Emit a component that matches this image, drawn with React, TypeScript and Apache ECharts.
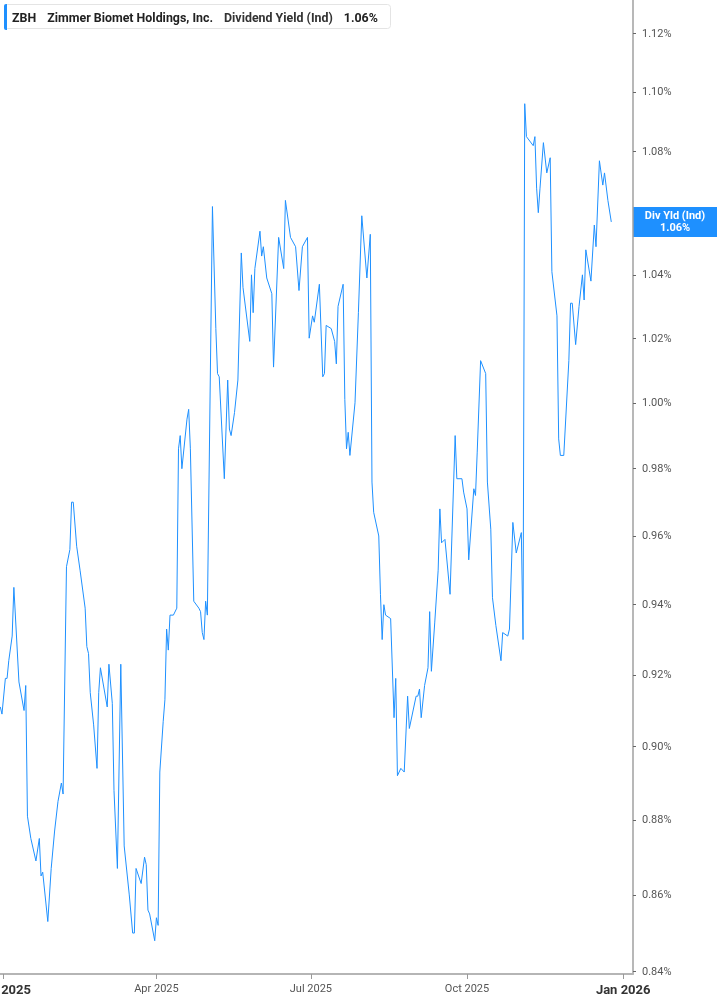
import React, { useEffect, useRef } from 'react';
import * as echarts from 'echarts';

// ZBH indicated dividend yield (%)
const q1Dates = [
  '2024-12-30', '2024-12-31', '2025-01-02', '2025-01-03', '2025-01-04', '2025-01-06', '2025-01-07', '2025-01-10', '2025-01-13', '2025-01-14',
  '2025-01-15', '2025-01-17', '2025-01-20', '2025-01-22', '2025-01-23', '2025-01-24', '2025-01-27', '2025-01-29', '2025-01-31', '2025-02-02',
  '2025-02-04', '2025-02-05', '2025-02-07', '2025-02-09', '2025-02-10', '2025-02-11', '2025-02-13', '2025-02-15', '2025-02-18', '2025-02-19',
  '2025-02-20', '2025-02-21', '2025-02-23', '2025-02-25', '2025-02-26', '2025-02-27', '2025-03-03', '2025-03-04', '2025-03-06', '2025-03-07',
  '2025-03-09', '2025-03-11', '2025-03-13', '2025-03-16', '2025-03-18', '2025-03-19', '2025-03-20', '2025-03-23', '2025-03-25', '2025-03-26',
  '2025-03-27', '2025-03-28', '2025-03-31', '2025-04-01', '2025-04-02',
];
const q1Yield = [
  0.911, 0.909, 0.919, 0.919, 0.924, 0.931, 0.945, 0.918, 0.910, 0.917,
  0.881, 0.875, 0.869, 0.875, 0.865, 0.866, 0.853, 0.867, 0.877, 0.885,
  0.890, 0.887, 0.951, 0.956, 0.970, 0.970, 0.957, 0.950, 0.939, 0.928,
  0.926, 0.915, 0.906, 0.894, 0.915, 0.922, 0.911, 0.923, 0.912, 0.888,
  0.867, 0.923, 0.873, 0.860, 0.850, 0.850, 0.867, 0.863, 0.870, 0.868,
  0.856, 0.855, 0.848, 0.854, 0.852,
];

const q2Dates = [
  '2025-04-03', '2025-04-05', '2025-04-06', '2025-04-07', '2025-04-08', '2025-04-09', '2025-04-11', '2025-04-13', '2025-04-14', '2025-04-15',
  '2025-04-16', '2025-04-19', '2025-04-20', '2025-04-21', '2025-04-23', '2025-04-26', '2025-04-27', '2025-04-28', '2025-04-29', '2025-04-30',
  '2025-05-01', '2025-05-04', '2025-05-06', '2025-05-07', '2025-05-08', '2025-05-11', '2025-05-13', '2025-05-14', '2025-05-15', '2025-05-17',
  '2025-05-19', '2025-05-21', '2025-05-22', '2025-05-26', '2025-05-27', '2025-05-28', '2025-05-29', '2025-06-01', '2025-06-02', '2025-06-03',
  '2025-06-05', '2025-06-08', '2025-06-09', '2025-06-12', '2025-06-15', '2025-06-16', '2025-06-19', '2025-06-22', '2025-06-24', '2025-06-26',
  '2025-06-29', '2025-06-30', '2025-07-02', '2025-07-03',
];
const q2Yield = [
  0.893, 0.907, 0.913, 0.933, 0.927, 0.937, 0.937, 0.939, 0.986, 0.990,
  0.980, 0.995, 0.998, 0.986, 0.941, 0.939, 0.938, 0.932, 0.930, 0.941,
  0.937, 1.062, 1.023, 1.009, 1.008, 0.977, 1.007, 0.992, 0.990, 0.997,
  1.007, 1.047, 1.036, 1.019, 1.040, 1.028, 1.042, 1.054, 1.046, 1.049,
  1.039, 1.034, 1.011, 1.052, 1.042, 1.064, 1.052, 1.049, 1.035, 1.049,
  1.052, 1.020, 1.027, 1.025,
];

const q3Dates = [
  '2025-07-06', '2025-07-08', '2025-07-09', '2025-07-10', '2025-07-13', '2025-07-15', '2025-07-16', '2025-07-17', '2025-07-20', '2025-07-21',
  '2025-07-22', '2025-07-23', '2025-07-24', '2025-07-27', '2025-07-29', '2025-07-31', '2025-08-03', '2025-08-05', '2025-08-06', '2025-08-07',
  '2025-08-10', '2025-08-11', '2025-08-12', '2025-08-13', '2025-08-14', '2025-08-17', '2025-08-19', '2025-08-20', '2025-08-21', '2025-08-23',
  '2025-08-25', '2025-08-27', '2025-08-28', '2025-09-01', '2025-09-02', '2025-09-03', '2025-09-04', '2025-09-06', '2025-09-08', '2025-09-09',
  '2025-09-10', '2025-09-12', '2025-09-14', '2025-09-15', '2025-09-16', '2025-09-18', '2025-09-21', '2025-09-24', '2025-09-25', '2025-09-28',
  '2025-09-29',
];
const q3Yield = [
  1.037, 1.008, 1.009, 1.024, 1.023, 1.019, 1.012, 1.030, 1.037, 1.001,
  0.986, 0.991, 0.984, 1.000, 1.028, 1.059, 1.039, 1.053, 0.976, 0.967,
  0.960, 0.943, 0.930, 0.940, 0.937, 0.936, 0.908, 0.919, 0.892, 0.894,
  0.893, 0.914, 0.905, 0.914, 0.914, 0.916, 0.908, 0.917, 0.922, 0.938,
  0.921, 0.935, 0.950, 0.968, 0.958, 0.959, 0.943, 0.990, 0.977, 0.977,
  0.973,
];

const q4Dates = [
  '2025-10-01', '2025-10-02', '2025-10-05', '2025-10-06', '2025-10-07', '2025-10-09', '2025-10-12', '2025-10-13', '2025-10-15', '2025-10-16',
  '2025-10-18', '2025-10-21', '2025-10-22', '2025-10-25', '2025-10-26', '2025-10-28', '2025-10-30', '2025-11-02', '2025-11-03', '2025-11-04',
  '2025-11-05', '2025-11-09', '2025-11-10', '2025-11-11', '2025-11-12', '2025-11-13', '2025-11-15', '2025-11-17', '2025-11-19', '2025-11-20',
  '2025-11-23', '2025-11-24', '2025-11-25', '2025-11-27', '2025-11-30', '2025-12-01', '2025-12-02', '2025-12-04', '2025-12-06', '2025-12-08',
  '2025-12-09', '2025-12-10', '2025-12-13', '2025-12-15', '2025-12-16', '2025-12-18', '2025-12-20', '2025-12-21', '2025-12-23', '2025-12-25',
];
const q4Yield = [
  0.968, 0.953, 0.974, 0.972, 0.985, 1.013, 1.009, 0.976, 0.962, 0.942,
  0.934, 0.924, 0.932, 0.931, 0.933, 0.964, 0.955, 0.961, 0.930, 1.096,
  1.085, 1.082, 1.085, 1.068, 1.060, 1.068, 1.083, 1.073, 1.078, 1.041,
  1.027, 0.989, 0.984, 0.984, 1.013, 1.031, 1.031, 1.018, 1.030, 1.040,
  1.032, 1.048, 1.038, 1.056, 1.049, 1.077, 1.069, 1.073, 1.064, 1.057,
];

// axis (log-scaled percent axis on the right); the 1.06% tick sits under the end tag
const yTickValues = [0.84, 0.86, 0.88, 0.9, 0.92, 0.94, 0.96, 0.98, 1.0, 1.02, 1.04, 1.08, 1.1, 1.12];
const yRange = [0.8394, 1.1314];
const xTickDates = ['2025-01-01', '2025-04-01', '2025-07-01', '2025-10-01', '2026-01-01'];
const months = ['Jan', 'Feb', 'Mar', 'Apr', 'May', 'Jun', 'Jul', 'Aug', 'Sep', 'Oct', 'Nov', 'Dec'];

const ticker = 'ZBH';
const company = 'Zimmer Biomet Holdings, Inc.';
const metric = 'Dividend Yield (Ind)';
const shortMetric = 'Div Yld (Ind)';

const BLUE = '#1e90ff';
const FONT = 'Roboto, sans-serif';

const toTime = (s: string) => {
  const [y, m, d] = s.split('-').map(Number);
  return new Date(y, m - 1, d).getTime();
};

const App: React.FC = () => {
  const chartRef = useRef<HTMLDivElement>(null);

  useEffect(() => {
    if (!chartRef.current) return;
    const chart = echarts.init(chartRef.current, null, { renderer: 'svg' });

    const dates = [...q1Dates, ...q2Dates, ...q3Dates, ...q4Dates];
    const values = [...q1Yield, ...q2Yield, ...q3Yield, ...q4Yield];
    const seriesData = dates.map((d, i) => [toTime(d), Math.log(values[i])]);
    const last = values[values.length - 1];
    const lastText = last.toFixed(2) + '%';
    const xMin = new Date(2024, 11, 29, 20).getTime();
    const xMax = new Date(2026, 0, 6, 19).getTime();
    const xTicks = xTickDates.map(toTime);
    const yTicks = yTickValues.map((v) => Math.log(v));

    chart.setOption({
      animation: false,
      textStyle: { fontFamily: FONT },
      title: {
        left: 4,
        top: 4,
        padding: [7, 13, 6, 8],
        backgroundColor: '#fff',
        borderColor: '#e4e4e4',
        borderWidth: 1,
        borderRadius: 3,
        text: `{t|${ticker}}{t|${company}}{n|${metric}}{v|${lastText}}`,
        textStyle: {
          fontSize: 12.4,
          rich: {
            t: { fontFamily: FONT, fontSize: 12.4, fontWeight: 'bold', color: '#222', padding: [0, 11, 0, 0] },
            n: { fontFamily: FONT, fontSize: 12.4, color: '#333', padding: [0, 11, 0, 0] },
            v: { fontFamily: FONT, fontSize: 12.4, fontWeight: 'bold', color: '#222' },
          },
        },
      },
      grid: { left: 0, right: 84, top: 0, bottom: 31, containLabel: false, outerBoundsMode: 'none' },
      xAxis: {
        type: 'value',
        min: xMin,
        max: xMax,
        splitLine: { show: false },
        axisLine: { show: true, onZero: false, lineStyle: { color: '#b5b5b5', width: 2 } },
        axisTick: { show: true, customValues: xTicks, length: 5, lineStyle: { color: '#999', width: 1 } },
        axisLabel: {
          customValues: xTicks,
          margin: 9,
          fontSize: 11,
          color: '#555',
          fontFamily: FONT,
          formatter: (value: number) => {
            const dt = new Date(value);
            const m = dt.getMonth();
            const label = `${months[m]} ${dt.getFullYear()}`;
            return m === 0 ? `{b|${label}}` : label;
          },
          rich: {
            b: { fontFamily: FONT, fontSize: 13, fontWeight: 'bold', color: '#333' },
          },
        },
      },
      yAxis: {
        type: 'value',
        position: 'right',
        min: Math.log(yRange[0]),
        max: Math.log(yRange[1]),
        splitLine: { show: false },
        axisLine: { show: true, onZero: false, lineStyle: { color: '#a0a0a0', width: 1.5 } },
        axisTick: { show: true, customValues: yTicks, length: 3, lineStyle: { color: '#666' } },
        axisLabel: {
          customValues: yTicks,
          margin: 9,
          fontSize: 11,
          color: '#555',
          fontFamily: FONT,
          formatter: (v: number) => Math.exp(v).toFixed(2) + '%',
        },
      },
      series: [
        {
          name: metric,
          type: 'line',
          data: seriesData,
          showSymbol: false,
          symbol: 'none',
          lineStyle: { color: BLUE, width: 1 },
          itemStyle: { color: BLUE },
        },
      ],
    });

    // end-of-line value tag on the axis, placed through the chart's own scales
    const lastPt = seriesData[seriesData.length - 1];
    const py = chart.convertToPixel({ yAxisIndex: 0 }, lastPt[1]) as number;
    const axisX = chart.convertToPixel({ xAxisIndex: 0 }, xMax) as number;
    const tagW = chart.getWidth() - axisX;

    chart.setOption({
      graphic: [
        {
          type: 'rect',
          left: 4,
          top: 4,
          z: 20,
          shape: { width: 3, height: 26, r: [2, 0, 0, 2] },
          style: { fill: BLUE },
        },
        {
          type: 'group',
          x: axisX,
          y: py - 15,
          z: 20,
          children: [
            { type: 'rect', shape: { x: 0, y: 0, width: tagW, height: 30 }, style: { fill: BLUE } },
            {
              type: 'text',
              x: tagW / 2,
              y: 15,
              style: {
                text: `${shortMetric}\n${lastText}`,
                fill: '#fff',
                font: `bold 11px ${FONT}`,
                align: 'center',
                verticalAlign: 'middle',
                lineHeight: 12,
              },
            },
          ],
        },
      ],
    });

    const handleResize = () => chart.resize();
    window.addEventListener('resize', handleResize);
    return () => {
      window.removeEventListener('resize', handleResize);
      chart.dispose();
    };
  }, []);

  return <div ref={chartRef} style={{ position: 'fixed', left: 0, top: 0, width: 717, height: 1005 }} />;
};

export default App;
